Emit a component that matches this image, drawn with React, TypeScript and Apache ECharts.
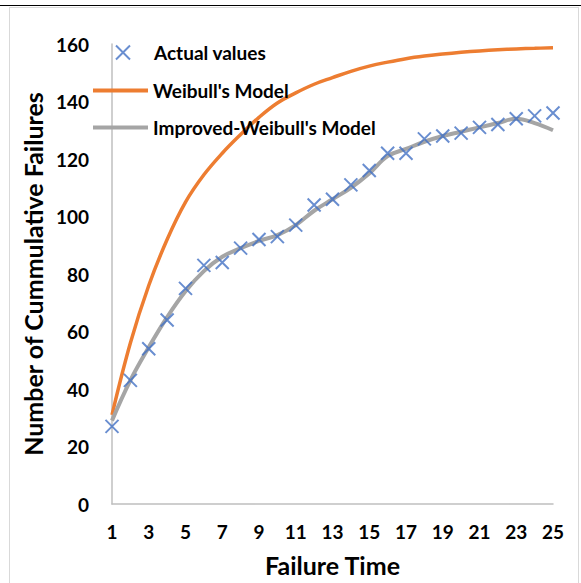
import React, { useEffect, useRef } from "react";
import * as echarts from "echarts";

const failureTime = ["1","2","3","4","5","6","7","8","9","10","11","12","13","14","15","16","17","18","19","20","21","22","23","24","25"];
const actualValues = [27,43,54,64,75,83,84,89,92,93,97,104,106,111,116,122,122,127,128,129,131,132,134,135,136];
const weibullModel = [31,56,76,92,105,114.5,122,128.5,134.5,139.5,143,146,148.3,150.5,152.3,153.7,154.9,155.8,156.5,157.1,157.6,158,158.3,158.5,158.7];
const improvedWeibull = [29,43,54.5,65,74,81,86,89,91.5,93.5,97,102,106,110,115,121,123.5,126,128,129.5,131,132.5,134,132.5,130];

const FONT = "Lato, 'Open Sans', sans-serif";
const CROSS = "path://M0,0L10,10M10,0L0,10";
const legendText = { fontFamily: FONT, fontWeight: "bold", fontSize: 19, color: "#000" };

export default function App() {
  const ref = useRef<HTMLDivElement>(null);
  useEffect(() => {
    if (!ref.current) return;
    const chart = echarts.init(ref.current, null, { renderer: "svg" });
    chart.setOption({
      animation: false,
      backgroundColor: "transparent",
      textStyle: { fontFamily: FONT },
      grid: { left: 112, right: 28, top: 44, bottom: 79, containLabel: false },
      legend: [
        {
          orient: "vertical",
          left: 115,
          top: 43,
          padding: 0,
          itemWidth: 14,
          itemHeight: 14,
          textStyle: { ...legendText, padding: [0, 0, 0, 19] },
          data: ["Actual values"],
        },
        {
          orient: "vertical",
          left: 93,
          top: 81,
          padding: 0,
          itemWidth: 55,
          itemHeight: 4,
          itemGap: 18,
          icon: "rect",
          textStyle: legendText,
          data: ["Weibull's Model", "Improved-Weibull's Model"],
        },
      ],
      xAxis: {
        type: "category",
        data: failureTime,
        boundaryGap: false,
        axisLine: { lineStyle: { color: "#BFBFBF", width: 1.5 } },
        axisTick: { show: false },
        axisLabel: { interval: 1, margin: 18, fontFamily: FONT, fontWeight: "bold", fontSize: 19, color: "#000" },
        name: "Failure Time",
        nameLocation: "middle",
        nameGap: 48,
        nameTextStyle: { fontFamily: FONT, fontWeight: "bold", fontSize: 25, color: "#000" },
        splitLine: { show: false },
      },
      yAxis: {
        type: "value",
        min: 0,
        max: 160,
        interval: 20,
        axisLine: { show: true, lineStyle: { color: "#BFBFBF", width: 1.5 } },
        axisTick: { show: false },
        splitLine: { show: false },
        axisLabel: { margin: 23, fontFamily: FONT, fontWeight: "bold", fontSize: 19, color: "#000" },
        name: "Number of Cummulative Failures",
        nameLocation: "middle",
        nameGap: 66,
        nameTextStyle: { fontFamily: FONT, fontWeight: "bold", fontSize: 25, color: "#000" },
      },
      series: [
        {
          name: "Actual values",
          type: "scatter",
          data: actualValues,
          symbol: CROSS,
          symbolSize: 13,
          itemStyle: { color: "rgba(0,0,0,0)", borderColor: "#4472C4", borderWidth: 2 },
          z: 5,
        },
        {
          name: "Weibull's Model",
          type: "line",
          data: weibullModel,
          smooth: 0.4,
          symbol: "none",
          lineStyle: { color: "#ED7D31", width: 3.5 },
          itemStyle: { color: "#ED7D31" },
          z: 3,
        },
        {
          name: "Improved-Weibull's Model",
          type: "line",
          data: improvedWeibull,
          smooth: 0.4,
          symbol: "none",
          lineStyle: { color: "#A5A5A5", width: 4 },
          itemStyle: { color: "#A5A5A5" },
          z: 4,
        },
      ],
    });
    return () => chart.dispose();
  }, []);

  return (
    <div style={{ position: "absolute", left: 0, top: 0, width: 581, height: 583, background: "#fff", overflow: "hidden" }}>
      <div style={{ position: "absolute", left: 0, top: 5, width: 581, height: 1, background: "#000" }} />
      <div style={{ position: "absolute", left: 9, top: 7, width: 568, height: 590, border: "1px solid #D9D9D9" }} />
      <div ref={ref} style={{ position: "absolute", left: 0, top: 0, width: 581, height: 583 }} />
    </div>
  );
}
